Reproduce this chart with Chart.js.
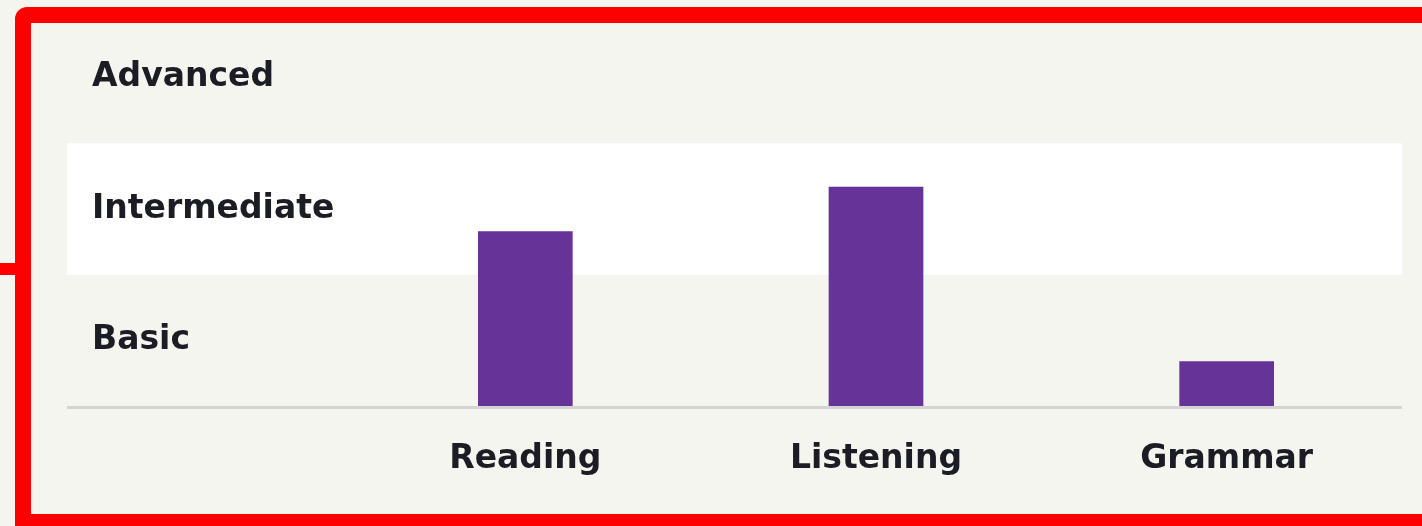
<!DOCTYPE html>
<html>
<head>
<meta charset="utf-8">
<script src="https://cdn.jsdelivr.net/npm/chart.js@4"></script>
<style>
  html, body { margin: 0; padding: 0; background: #f3f3ee; }
  #wrap { position: relative; width: 1422px; height: 526px; overflow: hidden; background: #f5f5f0; }
  #frame { position: absolute; left: 15px; top: 7px; width: 1440px; height: 523px; box-sizing: border-box;
           border: 16px solid #ff0000; border-top-left-radius: 12px; pointer-events: none; }
  #stub { position: absolute; left: 0; top: 263px; width: 16px; height: 12px; background: #ff0000; }
  canvas { position: absolute; left: 0; top: 0; }
</style>
</head>
<body>
<div id="wrap">
  <canvas id="grafico" width="1422" height="526"></canvas>
  <div id="frame"></div>
  <div id="stub"></div>
</div>
<script>
// datos del gráfico
const categorias = ['Reading', 'Listening', 'Grammar'];
const puntajes = [1.33, 1.67, 0.34];
const niveles = ['Basic', 'Intermediate', 'Advanced'];
const posNiveles = [0.5, 1.5, 2.5];

const fuente = { family: '"DejaVu Sans", Verdana, sans-serif', size: 33, weight: 'bold' };

// franja blanca (Intermediate) y línea base, se extienden bajo las etiquetas del eje Y
const fondoNiveles = {
    id: 'fondoNiveles',
    beforeDraw(chart) {
        let ctx = chart.ctx; let y = chart.scales.y; let area = chart.chartArea;
        let x0 = y.left - 25;
        ctx.save();
        ctx.fillStyle = '#ffffff';
        let yTop = y.getPixelForValue(2); let yBot = y.getPixelForValue(1);
        ctx.fillRect(x0, yTop, area.right - x0, yBot - yTop);
        ctx.restore();
    },
    beforeDatasetsDraw(chart) {
        let ctx = chart.ctx; let y = chart.scales.y; let area = chart.chartArea;
        let x0 = y.left - 25;
        ctx.save();
        ctx.strokeStyle = '#d4d4d4'; ctx.lineWidth = 3;
        ctx.beginPath();
        let yb = y.getPixelForValue(0) + 1.5;
        ctx.moveTo(x0, yb); ctx.lineTo(area.right, yb);
        ctx.stroke();
        ctx.restore();
    }
};

new Chart(document.getElementById('grafico').getContext('2d'), {
    type: 'bar',
    data: {
        labels: categorias,
        datasets: [{
            data: puntajes,
            backgroundColor: '#663399',
            borderWidth: 0,
            barPercentage: 0.27,
            categoryPercentage: 1
        }]
    },
    options: {
        responsive: false, animation: false,
        layout: { padding: { left: 92, right: 20, top: 12, bottom: 13 } },
        plugins: { legend: { display: false }, tooltip: { enabled: false } },
        scales: {
            x: {
                grid: { display: false, drawTicks: false },
                border: { display: false },
                afterFit: s => { s.height = 107; s.paddingLeft = 0; s.paddingRight = 0; },
                ticks: { color: '#1c1c24', font: fuente, padding: 34 }
            },
            y: {
                min: 0, max: 3,
                grid: { display: false, drawTicks: false },
                border: { display: false },
                afterBuildTicks: s => { s.ticks = posNiveles.map(v => ({ value: v })); },
                afterFit: s => { s.width = 258; s.paddingTop = 0; s.paddingBottom = 0; },
                ticks: {
                    color: '#1c1c24', font: fuente, crossAlign: 'far', padding: 0,
                    callback: (v) => niveles[posNiveles.indexOf(v)]
                }
            }
        }
    },
    plugins: [fondoNiveles]
});
</script>
</body>
</html>
